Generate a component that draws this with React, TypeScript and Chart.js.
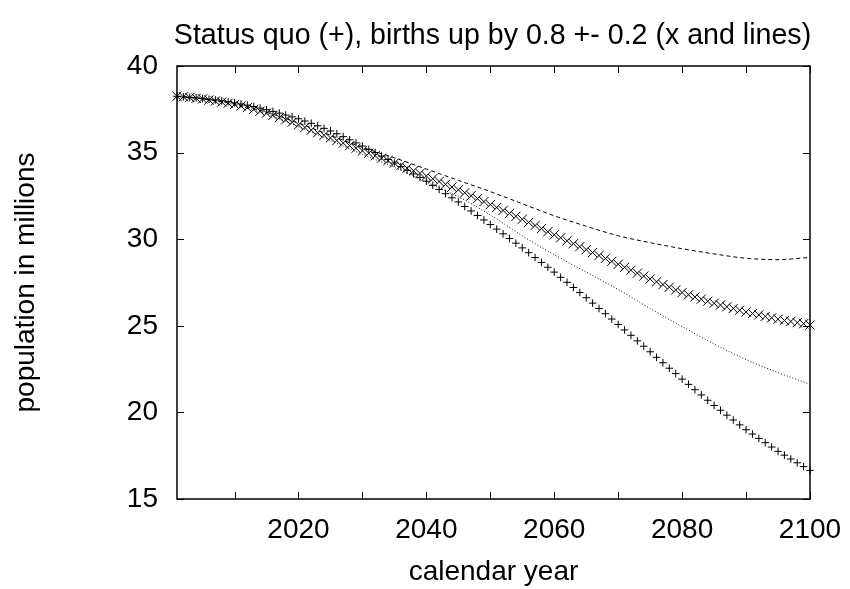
import React, { useEffect, useRef } from "react";
import { Chart, registerables } from "chart.js";

Chart.register(...registerables);

const TITLE = "Status quo (+), births up by 0.8 +- 0.2 (x and lines)";
const X_LABEL = "calendar year";
const Y_LABEL = "population in millions";

const xTickValues = [2010, 2020, 2030, 2040, 2050, 2060, 2070, 2080, 2090, 2100];
const yTickValues = [15, 20, 25, 30, 35, 40];

const years = [
  2001, 2002, 2003, 2004, 2005, 2006, 2007, 2008, 2009, 2010,
  2011, 2012, 2013, 2014, 2015, 2016, 2017, 2018, 2019, 2020,
  2021, 2022, 2023, 2024, 2025, 2026, 2027, 2028, 2029, 2030,
  2031, 2032, 2033, 2034, 2035, 2036, 2037, 2038, 2039, 2040,
  2041, 2042, 2043, 2044, 2045, 2046, 2047, 2048, 2049, 2050,
  2051, 2052, 2053, 2054, 2055, 2056, 2057, 2058, 2059, 2060,
  2061, 2062, 2063, 2064, 2065, 2066, 2067, 2068, 2069, 2070,
  2071, 2072, 2073, 2074, 2075, 2076, 2077, 2078, 2079, 2080,
  2081, 2082, 2083, 2084, 2085, 2086, 2087, 2088, 2089, 2090,
  2091, 2092, 2093, 2094, 2095, 2096, 2097, 2098, 2099, 2100,
];

// status quo (+)
const statusQuo = [
  38.25, 38.22, 38.19, 38.16, 38.12, 38.08, 38.04, 37.99, 37.94, 37.88,
  37.81, 37.74, 37.66, 37.57, 37.48, 37.38, 37.28, 37.17, 37.06, 36.95,
  36.82, 36.69, 36.55, 36.40, 36.25, 36.09, 35.92, 35.74, 35.56, 35.38,
  35.19, 35.00, 34.80, 34.60, 34.40, 34.19, 33.98, 33.77, 33.56, 33.35,
  33.11, 32.87, 32.63, 32.39, 32.15, 31.89, 31.63, 31.37, 31.11, 30.85,
  30.58, 30.31, 30.04, 29.77, 29.50, 29.22, 28.94, 28.66, 28.38, 28.10,
  27.80, 27.51, 27.21, 26.92, 26.62, 26.31, 26.00, 25.70, 25.39, 25.08,
  24.76, 24.45, 24.13, 23.82, 23.50, 23.18, 22.87, 22.55, 22.24, 21.92,
  21.62, 21.31, 21.01, 20.70, 20.40, 20.12, 19.84, 19.56, 19.28, 19.00,
  18.75, 18.50, 18.25, 18.00, 17.75, 17.53, 17.31, 17.09, 16.87, 16.65,
];

// births up by 0.8 (x)
const birthsUp = [
  38.25, 38.22, 38.18, 38.14, 38.10, 38.04, 37.98, 37.92, 37.85, 37.78,
  37.69, 37.60, 37.50, 37.39, 37.28, 37.15, 37.02, 36.89, 36.75, 36.60,
  36.45, 36.30, 36.15, 36.00, 35.85, 35.70, 35.55, 35.40, 35.25, 35.10,
  34.96, 34.82, 34.68, 34.54, 34.40, 34.25, 34.10, 33.95, 33.80, 33.65,
  33.49, 33.33, 33.17, 33.01, 32.85, 32.68, 32.51, 32.34, 32.17, 32.00,
  31.83, 31.66, 31.49, 31.32, 31.15, 30.97, 30.79, 30.61, 30.43, 30.25,
  30.08, 29.91, 29.74, 29.57, 29.40, 29.23, 29.06, 28.89, 28.72, 28.55,
  28.38, 28.21, 28.04, 27.87, 27.70, 27.54, 27.38, 27.23, 27.07, 26.92,
  26.79, 26.66, 26.54, 26.42, 26.30, 26.20, 26.10, 26.00, 25.90, 25.80,
  25.71, 25.63, 25.54, 25.46, 25.38, 25.31, 25.25, 25.18, 25.12, 25.05,
];

const lineYears = [
  2001, 2005, 2010, 2015, 2020, 2025, 2030, 2035, 2040, 2045, 2050,
  2055, 2060, 2065, 2070, 2075, 2080, 2085, 2090, 2095, 2100,
];
// births up by 1.0 (dashed)
const birthsUpHigh = [
  38.25, 38.1, 37.8, 37.33, 36.7, 36.0, 35.3, 34.7, 34.05, 33.4, 32.75,
  32.05, 31.35, 30.75, 30.2, 29.8, 29.45, 29.15, 28.9, 28.82, 28.95,
];
// births up by 0.6 (dotted)
const birthsUpLow = [
  38.25, 38.1, 37.76, 37.23, 36.5, 35.7, 34.9, 34.15, 33.3, 32.45, 31.4,
  30.2, 29.1, 28.1, 27.1, 26.0, 24.95, 23.95, 23.05, 22.3, 21.62,
];

const FONT = '"Liberation Sans", Arial, sans-serif';

export default function App() {
  const ref = useRef<HTMLCanvasElement>(null);

  useEffect(() => {
    const canvas = ref.current;
    if (!canvas) return;

    const framePlugin = {
      id: "gnuframe",
      afterDraw(chart: any) {
        const { ctx, chartArea: a, scales } = chart;
        const xs = scales.x;
        const ys = scales.y;
        ctx.save();
        ctx.strokeStyle = "#000";
        ctx.lineWidth = 1;
        ctx.beginPath();
        for (const t of xs.ticks) {
          const px = Math.round(xs.getPixelForValue(t.value)) + 0.5;
          ctx.moveTo(px, a.bottom);
          ctx.lineTo(px, a.bottom - 7);
          ctx.moveTo(px, a.top);
          ctx.lineTo(px, a.top + 7);
        }
        for (const t of ys.ticks) {
          const py = Math.round(ys.getPixelForValue(t.value)) + 0.5;
          ctx.moveTo(a.left, py);
          ctx.lineTo(a.left + 7, py);
          ctx.moveTo(a.right, py);
          ctx.lineTo(a.right - 7, py);
        }
        ctx.stroke();
        ctx.lineWidth = 1.5;
        ctx.strokeRect(a.left, a.top, a.right - a.left, a.bottom - a.top);

        ctx.fillStyle = "#000";
        ctx.textAlign = "center";
        ctx.textBaseline = "alphabetic";
        const cx = (a.left + a.right) / 2;
        ctx.font = `28.6px ${FONT}`;
        ctx.fillText(TITLE, cx - 1, 44);
        ctx.font = `28px ${FONT}`;
        ctx.fillText(X_LABEL, cx, 580);
        ctx.translate(34, (a.top + a.bottom) / 2);
        ctx.rotate(-Math.PI / 2);
        ctx.fillText(Y_LABEL, 0, 0);
        ctx.restore();
      },
    };

    const chart = new Chart(canvas, {
      type: "scatter",
      data: {
        datasets: [
          {
            label: "births up 1.0",
            data: lineYears.map((x, i) => ({ x, y: birthsUpHigh[i] })),
            showLine: true,
            borderColor: "#000",
            borderWidth: 1,
            borderDash: [4, 3],
            pointRadius: 0,
            cubicInterpolationMode: "monotone",
          },
          {
            label: "births up 0.6",
            data: lineYears.map((x, i) => ({ x, y: birthsUpLow[i] })),
            showLine: true,
            borderColor: "#111",
            borderWidth: 1,
            borderDash: [1, 2],
            pointRadius: 0,
            cubicInterpolationMode: "monotone",
          },
          {
            label: "births up 0.8",
            data: years.map((x, i) => ({ x, y: birthsUp[i] })),
            showLine: false,
            pointStyle: "crossRot",
            pointRadius: 6.5,
            borderColor: "#000",
            backgroundColor: "#000",
            borderWidth: 1,
          },
          {
            label: "status quo",
            data: years.map((x, i) => ({ x, y: statusQuo[i] })),
            showLine: false,
            pointStyle: "cross",
            pointRadius: 3.8,
            borderColor: "#000",
            backgroundColor: "#000",
            borderWidth: 1,
          },
        ],
      },
      options: {
        responsive: false,
        animation: false,
        clip: false,
        layout: { padding: { top: 66, right: 40, left: 0, bottom: 0 } },
        plugins: {
          legend: { display: false },
          title: { display: false },
          tooltip: { enabled: false },
        },
        scales: {
          x: {
            type: "linear",
            min: 2001,
            max: 2100,
            grid: { display: false, drawTicks: false },
            border: { display: false },
            afterBuildTicks: (scale: any) => {
              scale.ticks = xTickValues.map((v) => ({ value: v }));
            },
            afterFit: (scale: any) => {
              scale.height = 90;
              scale.paddingLeft = 0;
              scale.paddingRight = 0;
            },
            ticks: {
              autoSkip: false,
              maxRotation: 0,
              minRotation: 0,
              padding: 14,
              color: "#000",
              font: { family: FONT, size: 28 },
              callback: (v: any) => (Number(v) % 20 === 0 ? String(v) : ""),
            },
          },
          y: {
            type: "linear",
            min: 15,
            max: 40,
            grid: { display: false, drawTicks: false },
            border: { display: false },
            afterBuildTicks: (scale: any) => {
              scale.ticks = yTickValues.map((v) => ({ value: v }));
            },
            afterFit: (scale: any) => {
              scale.width = 177;
              scale.paddingTop = 0;
              scale.paddingBottom = 0;
            },
            ticks: {
              padding: 19,
              color: "#000",
              font: { family: FONT, size: 28 },
              callback: (v: any) => String(v),
            },
          },
        },
      },
      plugins: [framePlugin],
    } as any);

    return () => chart.destroy();
  }, []);

  return (
    <div style={{ position: "absolute", left: 0, top: 0, width: 850, height: 589, background: "#fff" }}>
      <canvas ref={ref} width={850} height={589} style={{ display: "block" }} />
    </div>
  );
}
